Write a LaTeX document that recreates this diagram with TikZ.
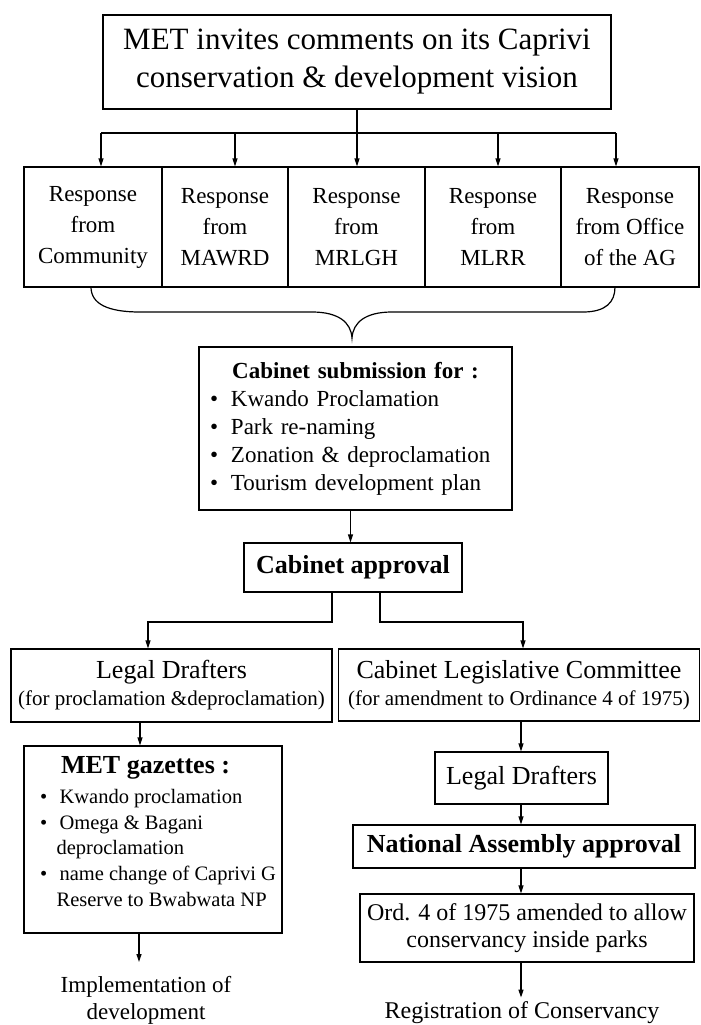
\documentclass[tikz,border=0pt]{standalone}
\usepackage{fontspec}
\setmainfont{Liberation Serif}
\usetikzlibrary{arrows.meta}
\tikzset{
  box/.style={draw, line width=1.2pt, inner sep=0pt, align=center},
  resp/.style={box, minimum height=120pt, font=\fontsize{23}{31}\selectfont},
  arr/.style={line width=1.2pt, -{Triangle[length=8pt,width=5pt]}},
  ln/.style={line width=1.2pt},
}
\newcommand\cbul{\makebox[23.5pt][l]{\hspace{2.5pt}\textbullet}}
\newcommand\gbul{\makebox[29.5pt][l]{\hspace{10pt}\textbullet}}

\begin{document}
\begin{tikzpicture}[x=1pt,y=-1pt]
\useasboundingbox (0,0) rectangle (701,1025);
\node[box, minimum width=508pt, minimum height=94pt, font=\fontsize{31}{38}\selectfont] (met) at (357,62) {MET invites comments on its Caprivi\\conservation \& development vision};
\node[resp, minimum width=138pt] (r1) at (93,227) {Response\\from\\Community};
\node[resp, minimum width=126pt] (r2) at (225,227) {Response\\from\\MAWRD};
\node[resp, minimum width=137pt] (r3) at (356.5,227) {Response\\from\\MRLGH};
\node[resp, minimum width=136pt] (r4) at (493,227) {Response\\from\\MLRR};
\node[resp, minimum width=138pt] (r5) at (630,227) {Response\\from Office\\of the AG};
\coordinate (b1) at (101,133);
\coordinate (b2) at (235,133);
\coordinate (b3) at (357,133);
\coordinate (b4) at (498,133);
\coordinate (b5) at (616,133);
\draw[ln] (met.south) -- (b3);
\draw[ln] (b1) -- (b5);
\foreach \i in {1,...,5}
  \draw[arr] (b\i) -- (b\i |- r1.north);
\draw[ln] (91,287) .. controls (91,304) and (108,312) .. (140,312) -- (312,312) .. controls (338,312) and (351,322) .. (352,338) .. controls (353,322) and (366,312) .. (392,312) -- (583,312) .. controls (606,312) and (615,302) .. (615,287);
\node[box, minimum width=313pt, minimum height=163pt, text width=296pt, align=left, font=\fontsize{23}{28}\selectfont] (cs) at (355.5,428.5) {\makebox[\linewidth]{\bfseries Cabinet submission for :}\\\cbul Kwando Proclamation\\\cbul Park re-naming\\\cbul Zonation \& deproclamation\\\cbul Tourism development plan};
\node[box, minimum width=218pt, minimum height=49pt, font=\fontsize{26}{30}\selectfont\bfseries] (ca) at (353,567.5) {Cabinet approval};
\draw[arr] ([xshift=-5pt]cs.south) -- ([xshift=-5pt]cs.south |- ca.north);
\node[box, minimum width=321pt, minimum height=73pt, font=\fontsize{21}{27}\selectfont] (ld) at (171.5,685.5) {{\fontsize{26}{27}\selectfont Legal Drafters}\\(for proclamation \&deproclamation)};
\node[box, minimum width=361pt, minimum height=72pt, font=\fontsize{21}{27}\selectfont] (clc) at (519,685) {{\fontsize{26}{27}\selectfont Cabinet Legislative Committee}\\(for amendment to Ordinance 4 of 1975)};
\coordinate (cl) at (332,622);
\coordinate (cr) at (380,622);
\coordinate (ldin) at (148,622);
\coordinate (clcin) at (523,622);
\draw[arr] (ca.south -| cl) -- (cl) -- (ldin) -- (ldin |- ld.north);
\draw[arr] (ca.south -| cr) -- (cr) -- (clcin) -- (clcin |- clc.north);
\node[box, minimum width=258pt, minimum height=187pt, align=left, font=\fontsize{20.5}{25.8}\selectfont] (mg) at (153,839.5) {\hspace*{31pt}{\fontsize{26}{26}\selectfont\bfseries MET gazettes :}\\[4pt]\gbul Kwando proclamation\\\gbul Omega \& Bagani\\\hspace*{26.5pt}deproclamation\\\gbul name change of Caprivi G\\\hspace*{26.5pt}Reserve to Bwabwata NP\rule[-16pt]{0pt}{1pt}};
\coordinate (mgx) at (140,0);
\draw[arr] (ld.south -| mgx) -- (mg.north -| mgx);
\node[box, minimum width=173pt, minimum height=52pt, font=\fontsize{26}{30}\selectfont] (ld2) at (521.5,778) {Legal Drafters};
\coordinate (rx) at (521,0);
\draw[arr] (clc.south -| rx) -- (ld2.north -| rx);
\node[box, minimum width=342pt, minimum height=43pt, font=\fontsize{26}{30}\selectfont\bfseries] (na) at (524,846.5) {National Assembly approval};
\draw[arr] (ld2.south -| rx) -- (na.north -| rx);
\node[box, minimum width=334pt, minimum height=68pt, font=\fontsize{24}{26.5}\selectfont] (ord) at (527,928) {Ord. 4 of 1975 amended to allow\\conservancy inside parks};
\draw[arr] (na.south -| rx) -- (ord.north -| rx);
\node[anchor=base, font=\fontsize{24}{28}\selectfont] (reg) at (522,1018) {Registration of Conservancy};
\draw[arr] (ord.south -| rx) -- (reg.north -| rx);
\node[anchor=base, font=\fontsize{23}{27}\selectfont, align=center] (impl) at (146,1019) {Implementation of\\development};
\coordinate (implin) at (139,962);
\draw[arr] (mg.south -| implin) -- (implin);
\end{tikzpicture}
\end{document}
